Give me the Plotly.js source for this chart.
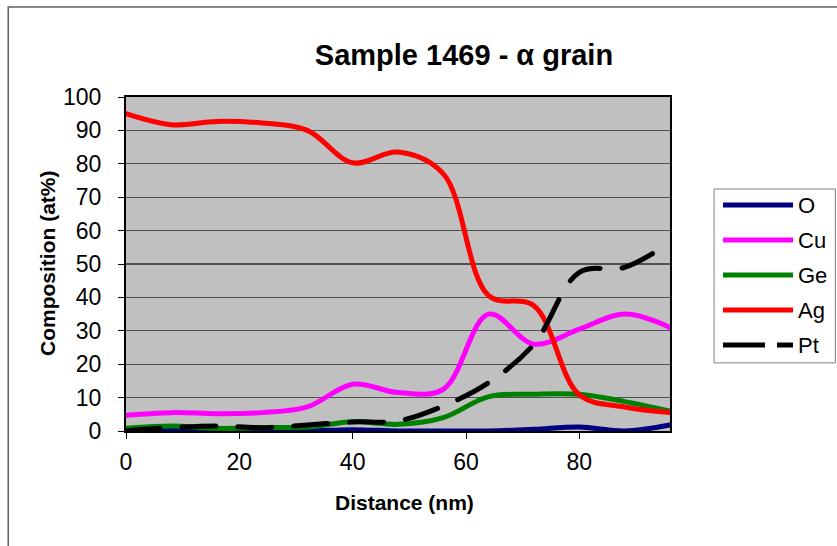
<!DOCTYPE html>
<html>
<head>
<meta charset="utf-8">
<script src="https://cdn.plot.ly/plotly-3.0.1.min.js"></script>
<style>
html,body{margin:0;padding:0;background:#fff;overflow:hidden;}
#chart{width:837px;height:546px;}
.scatterlayer path.js-line{stroke-linecap:round;stroke-linejoin:round;}
</style>
</head>
<body>
<div id="chart"></div>
<script>
// ---- data ----
const distance = [0, 8, 16, 24, 32, 40, 48, 56, 64, 72, 80, 88, 96];
const O  = [0, 0.5, 0, 0, 0, 0.4, 0, 0, 0, 0.5, 1.2, 0, 1.8];
const Cu = [4.7, 5.5, 5.2, 5.5, 7.2, 14, 11.5, 12.5, 35, 26, 30.5, 35, 31];
const Ge = [0.8, 1.5, 0.8, 1, 1.2, 2.8, 2, 4, 10.3, 11, 11, 8.8, 6];
const Ag = [95, 91.7, 92.7, 92.2, 90, 80.3, 83.5, 77, 40.5, 37.5, 10.8, 7.2, 5.5];
const Pt = [0, 1, 1.5, 1, 1.8, 2.7, 3, 7.5, 14.5, 26, 47.5, 49, 56.5];

const seriesNames  = ['O', 'Cu', 'Ge', 'Ag', 'Pt'];
const seriesValues = [O, Cu, Ge, Ag, Pt];
const seriesColors = ['#000080', '#ff00ff', '#008000', '#ff0000', '#000000'];
const seriesDash   = ['solid', 'solid', 'solid', 'solid', '34px,22px'];

const titleText = 'Sample 1469 - \u03b1 grain';
const xTitle = 'Distance (nm)';
const yTitle = 'Composition (at%)';

const FONT = 'Liberation Sans, Arial, sans-serif';

const traces = seriesNames.map((n, i) => ({
  type: 'scatter', mode: 'lines', name: n,
  x: distance, y: seriesValues[i],
  line: {color: seriesColors[i], width: 5, shape: 'spline', smoothing: 1, dash: seriesDash[i]},
  showlegend: false, hoverinfo: 'skip'
}));

// custom legend (long line samples like the original)
const shapes = [];
const annotations = [];
// outer chart-area border
shapes.push({type: 'rect', xref: 'paper', yref: 'paper', x0: -0.2165, x1: 1.4, y0: -0.4, y1: 1.2695,
  line: {color: '#606060', width: 1.5}, fillcolor: 'rgba(0,0,0,0)', layer: 'below'});
// legend box
shapes.push({type: 'rect', xref: 'paper', yref: 'paper', x0: 1.081, x1: 1.304, y0: 0.204, y1: 0.7246,
  line: {color: '#808080', width: 1}, fillcolor: '#ffffff'});
const legTop = 0.6766, legStep = 0.1048;
seriesNames.forEach((n, i) => {
  const yy = legTop - i * legStep;
  shapes.push({type: 'line', xref: 'paper', yref: 'paper', x0: 1.0974, x1: 1.2261, y0: yy, y1: yy,
    line: {color: seriesColors[i], width: 5, dash: i === 4 ? '42px,12px' : 'solid'}});
  annotations.push({xref: 'paper', yref: 'paper', x: 1.2315, y: yy, xanchor: 'left', yanchor: 'middle',
    text: n, showarrow: false, font: {family: FONT, size: 22, color: '#000'}});
});
// axis titles placed precisely
annotations.push({xref: 'paper', yref: 'paper', x: (404 - 126) / 544, y: (431 - 502) / 334,
  xanchor: 'center', yanchor: 'middle', showarrow: false,
  text: '<b>' + xTitle + '</b>', font: {family: FONT, size: 21, color: '#000'}});
annotations.push({xref: 'paper', yref: 'paper', x: (47 - 126) / 544, y: (431 - 264) / 334,
  xanchor: 'center', yanchor: 'middle', showarrow: false, textangle: -90,
  text: '<b>' + yTitle + '</b>', font: {family: FONT, size: 21, color: '#000'}});

const layout = {
  width: 837, height: 546,
  margin: {l: 126, r: 167, t: 97, b: 115},
  paper_bgcolor: '#ffffff', plot_bgcolor: '#c0c0c0',
  font: {family: FONT, color: '#000'},
  title: {text: '<b>' + titleText + '</b>', x: 464 / 837, xref: 'container', xanchor: 'center',
    y: 1 - 55 / 546, yref: 'container', yanchor: 'middle', font: {family: FONT, size: 29, color: '#000'}},
  xaxis: {range: [0, 96], dtick: 20, tick0: 0, ticks: 'outside', ticklen: 6, tickcolor: '#000', tickwidth: 1,
    showline: true, mirror: true, linecolor: '#000', linewidth: 2, showgrid: false, zeroline: false,
    ticklabelstandoff: 3,
    tickfont: {family: FONT, size: 23, color: '#000'}},
  yaxis: {range: [0, 100], dtick: 10, tick0: 0, ticks: 'outside', ticklen: 6, tickcolor: '#000', tickwidth: 1,
    showline: true, mirror: true, linecolor: '#000', linewidth: 2, showgrid: true, gridcolor: '#505050',
    gridwidth: 1.3, zeroline: false, ticklabelstandoff: 12, tickfont: {family: FONT, size: 23, color: '#000'}},
  shapes: shapes, annotations: annotations, showlegend: false
};

Plotly.newPlot('chart', traces, layout, {staticPlot: true, displayModeBar: false});
</script>
</body>
</html>
